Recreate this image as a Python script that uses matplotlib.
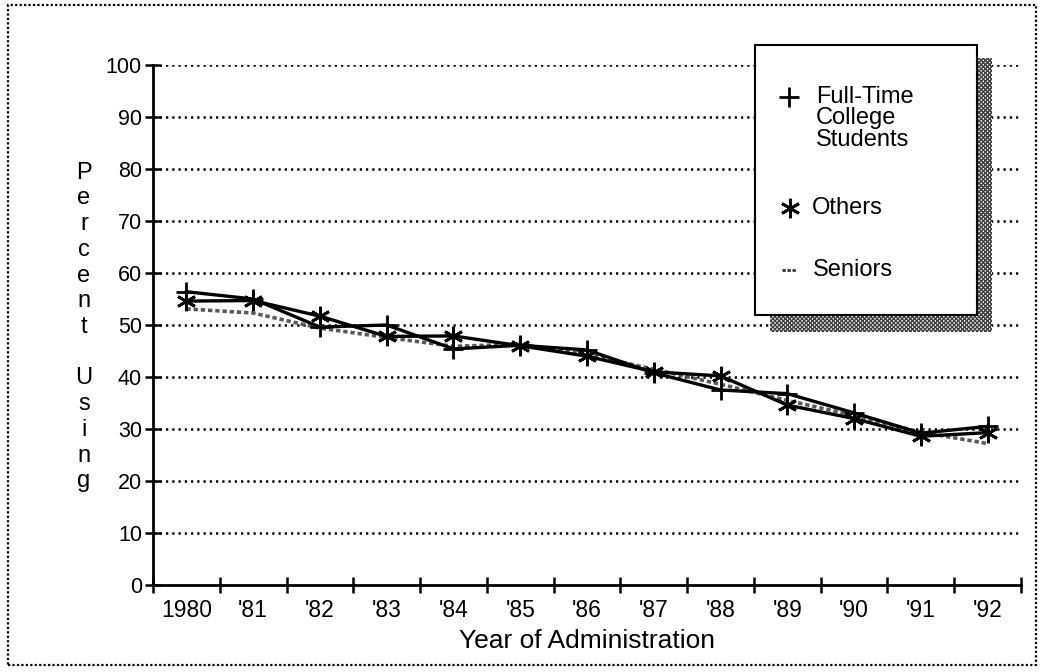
import numpy as np
import matplotlib
matplotlib.use("Agg")
import matplotlib.pyplot as plt
from matplotlib.patches import Rectangle

plt.rcParams['font.family'] = ['Liberation Sans', 'DejaVu Sans']

# %%
years = ["1980", "'81", "'82", "'83", "'84", "'85", "'86",
         "'87", "'88", "'89", "'90", "'91", "'92"]
full_time = [56.4, 55.0, 49.6, 50.0, 45.4, 46.1, 45.2, 40.8, 37.5, 36.8, 33.1, 29.2, 30.5]
others = [54.6, 54.7, 51.7, 47.8, 47.9, 46.0, 44.0, 41.0, 40.2, 34.6, 32.0, 28.6, 29.3]
seniors = [53.1, 52.3, 49.4, 47.6, 45.9, 46.3, 44.3, 41.5, 38.6, 35.5, 32.6, 29.4, 27.2]
yticks = list(range(0, 101, 10))

# %%
fig = plt.figure(figsize=(10.41, 6.72), dpi=100)
ax = fig.add_axes([153/1041, 1-585/672, (1021-153)/1041, 520/672])

x = np.arange(len(years))
ax.plot(x, seniors, color='0.35', lw=2.6, ls=(0, (1.2, 0.8)), zorder=3)
ax.plot(x, full_time, color='black', lw=2.4, marker='+', ms=15, mew=2, zorder=4)
ax.plot(x, others, color='black', lw=2.4, marker=(6, 2, 0), ms=14, mew=2, zorder=4)

ax.set_xlim(-0.5, len(years) - 0.5)
ax.set_ylim(0, 100)
ax.set_yticks(yticks)
ax.set_xticks(x)
ax.set_xticklabels(years)
ax.set_xticks(np.arange(-0.5, len(years)), minor=True)
for v in yticks[1:]:
    ax.axhline(v, color='black', lw=1.8, ls=(0, (0.9, 1.6)), zorder=1)

for s in ['top', 'right']:
    ax.spines[s].set_visible(False)
for s in ['left', 'bottom']:
    ax.spines[s].set_linewidth(2)
ax.tick_params(axis='x', which='major', length=0, labelsize=16.5, pad=10)
ax.tick_params(axis='x', which='minor', direction='inout', length=12, width=1.8)
ax.tick_params(axis='y', direction='inout', length=12, width=1.8, labelsize=15.5, pad=2)

ax.set_xlabel('Year of Administration', fontsize=19, labelpad=5)
fig.text(84/1041, 1-327/672, '\n'.join('Percent Using'), fontsize=17,
         ha='center', va='center', linespacing=1.22)

# legend box with hatched shadow
shadow = Rectangle((770/1041, 1-332/672), 222/1041, 274/672, transform=fig.transFigure,
                   facecolor='white', edgecolor='0.25', hatch='xxxxxxxx', lw=0, zorder=5)
box = Rectangle((755/1041, 1-315/672), 222/1041, 270/672, transform=fig.transFigure,
                facecolor='white', edgecolor='black', lw=1.5, zorder=6)
fig.add_artist(shadow)
fig.add_artist(box)

lax = fig.add_axes([755/1041, 1-315/672, 222/1041, 270/672], zorder=7)
lax.set_xlim(755, 977)
lax.set_ylim(315, 45)
lax.axis('off')
lax.patch.set_visible(False)
lax.plot([789], [97], color='black', marker='+', ms=15, mew=2)
lax.text(816, 86, 'Full-Time\nCollege\nStudents', fontsize=17, va='top', ha='left',
         linespacing=0.96)
lax.plot([790], [208], color='black', marker=(6, 2, 0), ms=14, mew=2)
lax.text(812, 208, 'Others', fontsize=17, va='center', ha='left')
lax.plot([782, 796], [270, 270], color='0.2', lw=2, ls=(0, (1.2, 0.6)))
lax.text(813, 270, 'Seniors', fontsize=17, va='center', ha='left')

frame = Rectangle((8/1041, 1-665/672), 1028/1041, 660/672, transform=fig.transFigure,
                  facecolor='none', edgecolor='black', lw=1.6, ls=(0, (1, 1)))
fig.add_artist(frame)

fig.savefig('out.png', dpi=100)
